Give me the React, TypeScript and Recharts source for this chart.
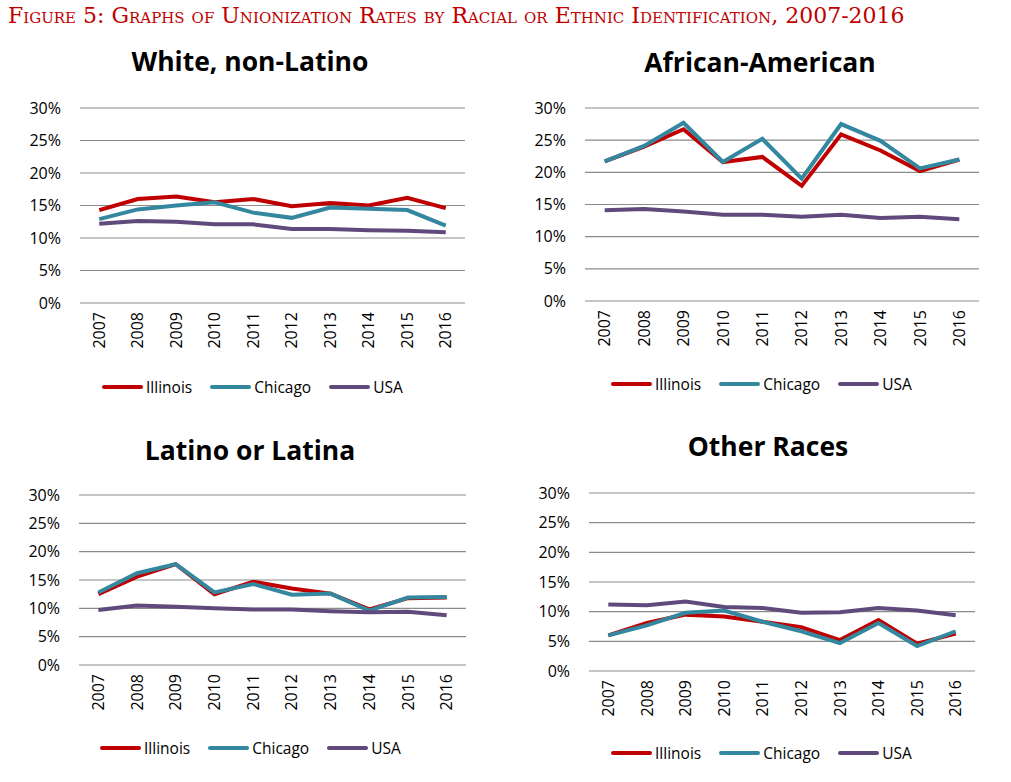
import { LineChart, Line, XAxis, YAxis, CartesianGrid, Legend } from "recharts";

const years = ["2007", "2008", "2009", "2010", "2011", "2012", "2013", "2014", "2015", "2016"];
const yTicks = [0, 5, 10, 15, 20, 25, 30];

// unionization rates, percent
const whiteIllinois = [14.3, 16.0, 16.4, 15.5, 16.0, 14.9, 15.4, 15.0, 16.2, 14.6];
const whiteChicago = [12.9, 14.4, 15.0, 15.5, 13.9, 13.1, 14.7, 14.5, 14.3, 11.9];
const whiteUsa = [12.2, 12.6, 12.5, 12.1, 12.1, 11.4, 11.4, 11.2, 11.1, 10.9];

const blackIllinois = [21.7, 24.0, 26.7, 21.6, 22.4, 17.9, 25.9, 23.4, 20.2, 22.0];
const blackChicago = [21.7, 24.1, 27.7, 21.6, 25.2, 19.0, 27.5, 24.9, 20.6, 22.0];
const blackUsa = [14.1, 14.3, 13.9, 13.4, 13.4, 13.1, 13.4, 12.9, 13.1, 12.7];

const latinoIllinois = [12.5, 15.6, 17.8, 12.5, 14.7, 13.5, 12.6, 9.8, 11.8, 11.9];
const latinoChicago = [12.8, 16.2, 17.8, 12.8, 14.3, 12.4, 12.6, 9.6, 11.9, 12.0];
const latinoUsa = [9.7, 10.5, 10.3, 10.0, 9.8, 9.8, 9.5, 9.3, 9.4, 8.8];

const otherIllinois = [6.0, 8.1, 9.5, 9.2, 8.3, 7.4, 5.2, 8.6, 4.6, 6.3];
const otherChicago = [6.0, 7.7, 9.8, 10.2, 8.3, 6.7, 4.7, 8.1, 4.2, 6.7];
const otherUsa = [11.2, 11.1, 11.7, 10.8, 10.6, 9.8, 9.9, 10.6, 10.2, 9.4];

const seriesNames = ["Illinois", "Chicago", "USA"];
const seriesKeys = ["illinois", "chicago", "usa"];
const seriesColors = ["#C00000", "#33879E", "#604A7B"];

const font = "'Open Sans', sans-serif";

function toRows(il: number[], chi: number[], usa: number[]) {
  return years.map((year, i) => ({ year, illinois: il[i], chicago: chi[i], usa: usa[i] }));
}

const panels = [
  {
    title: "White, non-Latino",
    data: toRows(whiteIllinois, whiteChicago, whiteUsa),
    chartLeft: 0, left: 80, right: 465, top: 108, bottom: 303,
    legendY: 387, legendLeft: 102, titleX: 250, titleBase: 72,
  },
  {
    title: "African-American",
    data: toRows(blackIllinois, blackChicago, blackUsa),
    chartLeft: 505, left: 585, right: 979, top: 108, bottom: 301,
    legendY: 384, legendLeft: 611, titleX: 760, titleBase: 73,
  },
  {
    title: "Latino or Latina",
    data: toRows(latinoIllinois, latinoChicago, latinoUsa),
    chartLeft: 0, left: 79, right: 466, top: 495, bottom: 665,
    legendY: 748, legendLeft: 100, titleX: 250, titleBase: 461,
  },
  {
    title: "Other Races",
    data: toRows(otherIllinois, otherChicago, otherUsa),
    chartLeft: 505, left: 589, right: 975, top: 493, bottom: 671,
    legendY: 753, legendLeft: 611, titleX: 768, titleBase: 457,
  },
];

const CHART_W = 505;
const Y_AXIS_W = 60;
const LEGEND_H = 24;

function YTick({ x, y, payload }: any) {
  return (
    <text x={x - 11} y={y} dy="0.35em" textAnchor="end" fontFamily={font} fontSize={16} fill="#000">
      {`${payload.value}%`}
    </text>
  );
}

function XTick({ x, y, payload }: any) {
  return (
    <text
      transform={`translate(${x},${y + 1}) rotate(-90)`}
      dy="0.35em"
      textAnchor="end"
      fontFamily={font}
      fontSize={16}
      fill="#000"
    >
      {payload.value}
    </text>
  );
}

function LegendBox() {
  return (
    <div style={{ display: "flex", alignItems: "center", height: LEGEND_H, fontFamily: font, fontSize: 15.5, color: "#000" }}>
      {seriesNames.map((name, i) => (
        <div key={name} style={{ display: "flex", alignItems: "center", marginRight: 18 }}>
          <div style={{ width: 41, height: 4, borderRadius: 2, background: seriesColors[i], marginRight: 3 }} />
          <span>{name}</span>
        </div>
      ))}
    </div>
  );
}

function Panel({ p }: { p: (typeof panels)[number] }) {
  const chartTop = p.top - 20;
  const height = p.legendY + LEGEND_H / 2 - chartTop;
  const xAxisH = p.legendY - LEGEND_H / 2 - p.bottom;
  const half = (p.right - p.left) / 20;
  return (
    <>
      <div
        style={{
          position: "absolute",
          left: p.titleX - 200,
          width: 400,
          top: p.titleBase - 29,
          textAlign: "center",
          fontFamily: font,
          fontWeight: 700,
          fontSize: 26.5,
          lineHeight: "36px",
          color: "#000",
        }}
      >
        {p.title}
      </div>
      <div style={{ position: "absolute", left: p.chartLeft, top: chartTop }}>
        <LineChart
          width={CHART_W}
          height={height}
          data={p.data}
          margin={{ top: 20, bottom: 0, left: p.left - p.chartLeft - Y_AXIS_W, right: p.chartLeft + CHART_W - p.right }}
        >
          <CartesianGrid vertical={false} stroke="#8c8c8c" strokeWidth={1.2} />
          <XAxis
            dataKey="year"
            axisLine={false}
            tickLine={false}
            height={xAxisH}
            interval={0}
            padding={{ left: half, right: half }}
            tick={<XTick />}
          />
          <YAxis
            domain={[0, 30]}
            ticks={yTicks}
            width={Y_AXIS_W}
            axisLine={false}
            tickLine={false}
            tick={<YTick />}
          />
          <Legend
            verticalAlign="bottom"
            height={LEGEND_H}
            content={<LegendBox />}
            wrapperStyle={{ left: p.legendLeft - p.chartLeft, width: "auto" }}
          />
          {seriesKeys.map((k, i) => (
            <Line
              key={k}
              dataKey={k}
              name={seriesNames[i]}
              stroke={seriesColors[i]}
              strokeWidth={4}
              dot={false}
              type="linear"
              isAnimationActive={false}
            />
          ))}
        </LineChart>
      </div>
    </>
  );
}

export default function App() {
  return (
    <div style={{ position: "absolute", left: 0, top: 0, width: 1011, height: 782, background: "#fff", overflow: "hidden" }}>
      <div
        style={{
          position: "absolute",
          left: 8,
          top: 3,
          fontFamily: "'DejaVu Serif', serif",
          fontVariant: "small-caps",
          fontSize: 22,
          color: "#C00000",
          whiteSpace: "nowrap",
        }}
      >
        Figure 5: Graphs of Unionization Rates by Racial or Ethnic Identification, 2007-2016
      </div>
      {panels.map((p) => (
        <Panel key={p.title} p={p} />
      ))}
    </div>
  );
}
